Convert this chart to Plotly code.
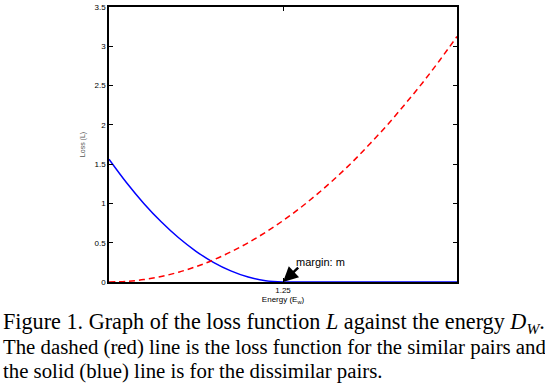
import plotly.graph_objects as go

# Data
energy = [0.0, 0.125, 0.25, 0.375, 0.5, 0.625, 0.75, 0.875, 1.0, 1.125, 1.25,
          1.375, 1.5, 1.625, 1.75, 1.875, 2.0, 2.125, 2.25, 2.375, 2.5]
loss_similar = [0.0, 0.008, 0.031, 0.070, 0.125, 0.195, 0.281, 0.383, 0.50, 0.633, 0.781,
                0.945, 1.125, 1.32, 1.53, 1.76, 2.0, 2.26, 2.53, 2.82, 3.125]
loss_dissimilar = [1.5625, 1.266, 1.0, 0.766, 0.5625, 0.391, 0.25, 0.141, 0.0625, 0.016, 0.0,
                   0.0, 0.0, 0.0, 0.0, 0.0, 0.0, 0.0, 0.0, 0.0, 0.0]
y_ticks = [0, 0.5, 1, 1.5, 2, 2.5, 3, 3.5]
y_ticklabels = ["0", "0.5", "1", "1.5", "2", "2.5", "3", "3.5"]
x_ticks = [1.25]
x_ticklabels = ["1.25"]
margin_value = 1.25
arrow_tail = (1.37, 0.2)

W, H = 545, 388
L, R, T, B = 109, 88, 7, 106
pw, ph = W - L - R, H - T - B

def px(x):
    return (x - L) / pw

def py(y):
    return (H - B - y) / ph

fig = go.Figure()
fig.add_trace(go.Scatter(x=energy, y=loss_dissimilar, mode="lines", line_shape="spline",
                         line=dict(color="#0000ff", width=1.5), showlegend=False))
fig.add_trace(go.Scatter(x=energy, y=loss_similar, mode="lines", line_shape="spline",
                         line=dict(color="#ff0000", width=1.5, dash="6px,4px"), showlegend=False))

axis_font = dict(family="Liberation Sans, Arial", size=8, color="black")
fig.update_xaxes(range=[0, 2.5], tickvals=x_ticks, ticktext=x_ticklabels, automargin=False,
                 ticks="inside", ticklen=4, tickcolor="black", showline=True, linecolor="black",
                 linewidth=1.5, mirror="ticks", showgrid=False, zeroline=False, tickfont=axis_font,
                 title=dict(text="Energy (E<sub>w</sub>)", font=axis_font, standoff=0))
fig.update_yaxes(range=[0, 3.5], tickvals=y_ticks, ticktext=y_ticklabels, automargin=False,
                 ticks="inside", ticklen=4, tickcolor="black", showline=True, linecolor="black",
                 linewidth=1.5, mirror="ticks", showgrid=False, zeroline=False, tickfont=axis_font,
                 title=dict(text="Loss (L)", font=dict(family="Liberation Sans, Arial", size=7, color="#555"), standoff=8))

fig.add_annotation(x=margin_value, y=0, ax=arrow_tail[0], ay=arrow_tail[1], axref="x", ayref="y",
                   xref="x", yref="y", text="", showarrow=True, arrowhead=2, arrowsize=1.2,
                   arrowwidth=2.5, arrowcolor="black")
fig.add_annotation(x=px(294), y=py(262), xref="paper", yref="paper", xanchor="left",
                   yanchor="middle", text="margin: m", showarrow=False,
                   font=dict(family="Liberation Sans, Arial", size=11, color="black"))

caption = [
    "Figure 1. Graph of the loss function <i>L</i> against the energy <i>D</i><sub><i>W</i></sub>.",
    "The dashed (red) line is the loss function for the similar pairs and",
    "the solid (blue) line is for the dissimilar pairs.",
]
caption_sizes = [22.2, 20.8, 20.8]
for i, line in enumerate(caption):
    fig.add_annotation(x=px(1), y=py(323 + 24 * i), xref="paper", yref="paper",
                       xanchor="left", yanchor="middle", text=line, showarrow=False,
                       font=dict(family="Liberation Serif, Times New Roman", size=caption_sizes[i], color="black"))

fig.update_layout(width=W, height=H, margin=dict(l=L, r=R, t=T, b=B),
                  paper_bgcolor="white", plot_bgcolor="white")
fig.write_html("out.html", config={"displayModeBar": False},
               post_script="document.body.style.margin='0';document.body.style.overflow='hidden';")
